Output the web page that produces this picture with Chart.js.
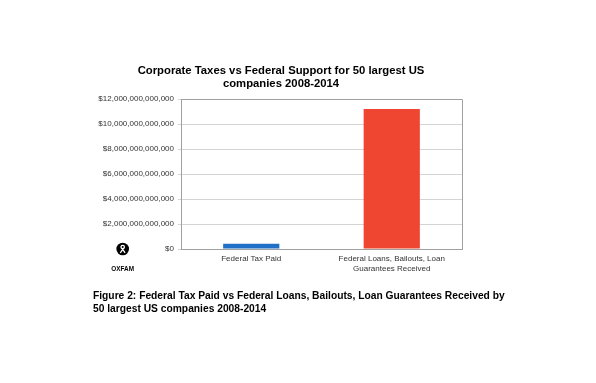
<!DOCTYPE html>
<html>
<head>
<meta charset="utf-8">
<script src="https://cdn.jsdelivr.net/npm/chart.js@4/dist/chart.umd.min.js"></script>
<style>
html,body{margin:0;padding:0;background:#fff;}
#wrap{position:relative;width:596px;height:383px;}
</style>
</head>
<body>
<div id="wrap"><canvas id="c" width="596" height="383"></canvas></div>
<script>
// ---- data ----
const categories = ["Federal Tax Paid", ["Federal Loans, Bailouts, Loan", "Guarantees Received"]];
const amounts = [423000000000, 11200000000000];
const barColors = ["#2070c8", "#ef4631"];
const yTickMin = 0;
const yTickMax = 12000000000000;
const yTickStep = 2000000000000;
const titleLines = ["Corporate Taxes vs Federal Support for 50 largest US", "companies 2008-2014"];
const captionLines = ["Figure 2: Federal Tax Paid vs Federal Loans, Bailouts, Loan Guarantees Received by", "50 largest US companies 2008-2014"];
const logoText = "OXFAM";

const FONT = "'Liberation Sans', Arial, Helvetica, sans-serif";

const decor = {
  id: 'decor',
  afterDraw(chart) {
    const ctx = chart.ctx;
    const a = chart.chartArea;
    ctx.save();
    // frame (top / right)
    ctx.strokeStyle = '#a0a0a0';
    ctx.lineWidth = 1;
    ctx.beginPath();
    ctx.moveTo(a.left, a.top + 0.5);
    ctx.lineTo(a.right + 0.5, a.top + 0.5);
    ctx.lineTo(a.right + 0.5, a.bottom);
    ctx.stroke();
    // title
    ctx.fillStyle = '#000';
    ctx.textAlign = 'center';
    ctx.textBaseline = 'alphabetic';
    ctx.font = "bold 11.3px " + FONT;
    ctx.fillText(titleLines[0], 281, 73.5);
    ctx.fillText(titleLines[1], 281, 87);
    // caption
    ctx.textAlign = 'left';
    ctx.font = "bold 10.25px " + FONT;
    ctx.fillText(captionLines[0], 93, 299);
    ctx.fillText(captionLines[1], 93, 312);
    // logo
    const cx = 122.7, cy = 249;
    ctx.fillStyle = '#000';
    ctx.beginPath(); ctx.arc(cx, cy, 6.3, 0, Math.PI * 2); ctx.fill();
    ctx.strokeStyle = '#fff'; ctx.lineWidth = 1.3;
    ctx.beginPath(); ctx.arc(cx, cy - 2, 1.7, 0, Math.PI * 2); ctx.stroke();
    ctx.beginPath();
    ctx.moveTo(cx - 2.4, cy + 3.8); ctx.lineTo(cx, cy + 0.3); ctx.lineTo(cx + 2.4, cy + 3.8);
    ctx.stroke();
    ctx.fillStyle = '#000';
    ctx.textAlign = 'center';
    ctx.font = "bold 7.5px " + FONT;
    ctx.translate(cx, 271);
    ctx.scale(0.85, 1);
    ctx.fillText(logoText, 0, 0);
    ctx.restore();
  }
};

new Chart(document.getElementById('c'), {
  type: 'bar',
  data: {
    labels: categories,
    datasets: [{
      data: amounts,
      backgroundColor: barColors,
      borderWidth: 0,
      barPercentage: 0.4,
      categoryPercentage: 1.0
    }]
  },
  options: {
    responsive: false,
    animation: false,
    devicePixelRatio: 1,
    layout: { padding: { left: 0, right: 134, top: 99, bottom: 94 } },
    plugins: { legend: { display: false }, tooltip: { enabled: false }, title: { display: false } },
    scales: {
      x: {
        grid: { display: false, drawTicks: false },
        border: { display: true, color: '#a0a0a0' },
        ticks: { color: '#333', font: { family: FONT, size: 8, lineHeight: 1.25 }, padding: 5, maxRotation: 0, autoSkip: false },
        afterFit(s) { s.height = 40; }
      },
      y: {
        min: yTickMin,
        max: yTickMax,
        grid: { color: '#d4d4d4', lineWidth: 1, tickLength: 3, drawTicks: true },
        border: { display: true, color: '#a0a0a0' },
        ticks: {
          stepSize: yTickStep,
          color: '#333',
          padding: 4,
          font: { family: FONT, size: 8 },
          callback: v => '$' + Number(v).toLocaleString('en-US')
        },
        afterFit(s) { s.width = 181; }
      }
    }
  },
  plugins: [decor]
});
</script>
</body>
</html>
